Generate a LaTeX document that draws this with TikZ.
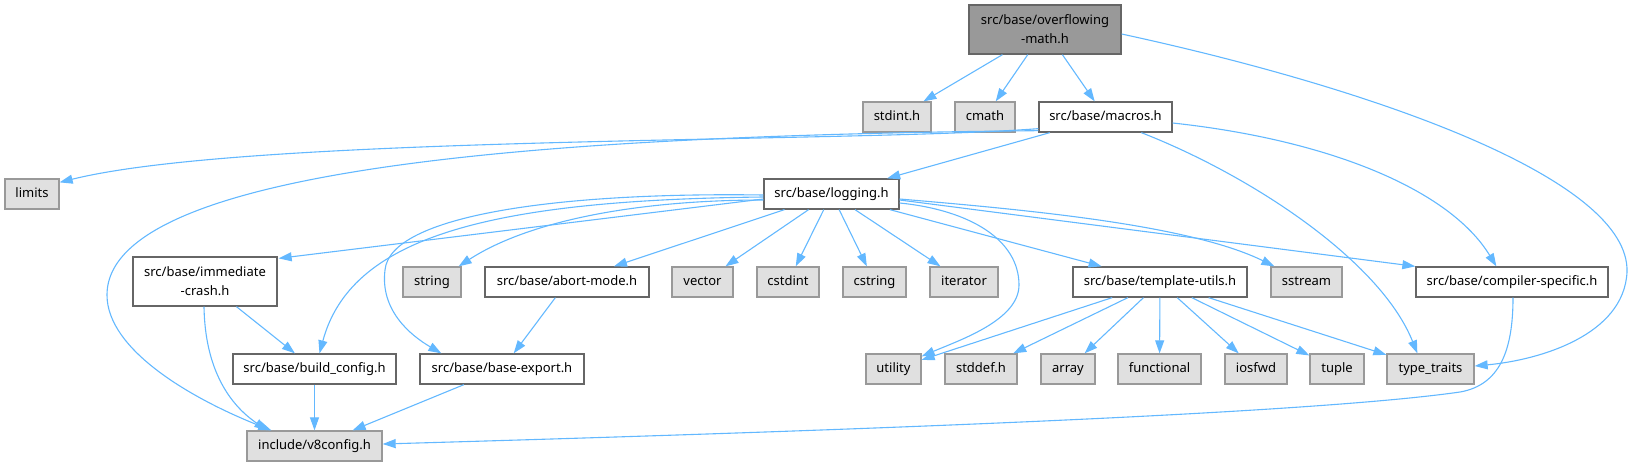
\documentclass[tikz,border=0pt]{standalone}
\usepackage{fontspec}
\setmainfont{Noto Sans}
\usetikzlibrary{arrows.meta,calc}
\definecolor{edgeblue}{HTML}{63B8FF}
\definecolor{sysfill}{HTML}{E0E0E0}
\definecolor{sysdraw}{HTML}{999999}
\definecolor{localdraw}{HTML}{666666}
\definecolor{mainfill}{HTML}{999999}
\begin{document}
\begin{tikzpicture}[x=1pt,y=-1pt,
  nodebase/.style={draw=localdraw, fill=white, line width=1.3pt, inner sep=0pt,
    align=center, font=\fontsize{13}{19}\selectfont},
  box/.style={nodebase, minimum height=30pt, text height=9.5pt, text depth=3pt},
  sysbox/.style={box, draw=sysdraw, fill=sysfill},
  twoline/.style={nodebase, minimum height=49pt},
  edge/.style={draw=edgeblue, line width=1.1pt, -{Triangle[length=13pt,width=9pt]}},
]
\useasboundingbox (0,0) rectangle (1635,467);
% nodes
\node[twoline, fill=mainfill, minimum width=152pt] (ovf) at (1045,29.5) {src/base/overflowing\\-math.h};
\node[sysbox, minimum width=68pt] (stdint) at (897,117) {stdint.h};
\node[sysbox, minimum width=60pt] (cmath) at (985,117) {cmath};
\node[box, minimum width=133pt] (macros) at (1105.5,117) {src/base/macros.h};
\node[sysbox, minimum width=54pt] (limits) at (32,194) {limits};
\node[box, minimum width=135pt] (logging) at (831.5,194) {src/base/logging.h};
\node[twoline, minimum width=144pt] (immcrash) at (205,281.5) {src/base/immediate\\-crash.h};
\node[sysbox, minimum width=58pt] (string) at (432,282) {string};
\node[box, minimum width=164pt] (abort) at (567,282) {src/base/abort-mode.h};
\node[sysbox, minimum width=61pt] (vector) at (702.5,282) {vector};
\node[sysbox, minimum width=62pt] (cstdint) at (788,282) {cstdint};
\node[sysbox, minimum width=63pt] (cstring) at (874.5,282) {cstring};
\node[sysbox, minimum width=68pt] (iterator) at (964,282) {iterator};
\node[box, minimum width=174pt] (tmpl) at (1160,282) {src/base/template-utils.h};
\node[sysbox, minimum width=71pt] (sstream) at (1306.5,282) {sstream};
\node[box, minimum width=192pt] (compspec) at (1512,282) {src/base/compiler-specific.h};
\node[box, minimum width=163pt] (buildcfg) at (314.5,369) {src/base/build\_config.h};
\node[box, minimum width=164pt] (baseexp) at (502,369) {src/base/base-export.h};
\node[sysbox, minimum width=55pt] (utility) at (893.5,369) {utility};
\node[sysbox, minimum width=72pt] (stddef) at (981,369) {stddef.h};
\node[sysbox, minimum width=54pt] (array) at (1068,369) {array};
\node[sysbox, minimum width=83pt] (functional) at (1159.5,369) {functional};
\node[sysbox, minimum width=62pt] (iosfwd) at (1256,369) {iosfwd};
\node[sysbox, minimum width=54pt] (tuple) at (1337,369) {tuple};
\node[sysbox, minimum width=87pt] (typetraits) at (1430.5,369) {type\_traits};
\node[sysbox, minimum width=135pt] (v8config) at (314.5,446) {include/v8config.h};
% edges from overflowing-math.h
\draw[edge] (ovf) -- (stdint);
\draw[edge] (ovf) -- (cmath);
\draw[edge] (ovf) -- (macros);
\draw[edge] ($(ovf.east)+(0,4.5)$) .. controls (1380,90) and (1630,180) .. (1627,272)
  .. controls (1624,335) and (1540,360) .. ($(typetraits.east)+(0,-3)$);
% edges from macros.h
\draw[edge] ($(macros.south west)+(0,-4)$) .. controls (850,143) and (250,135) .. ($(limits.north east)+(0,4)$);
\draw[edge] ($(macros.south west)+(0,-2)$) .. controls (600,135) and (107,160) .. (107,295)
  .. controls (107,350) and (192,399) .. ($(v8config.north west)+(25,0)$);
\draw[edge] (macros) -- (logging);
\draw[edge] ($(macros.south west)+(103,0)$) .. controls (1250,175) and (1380,260) .. ($(typetraits.north west)+(31,0)$);
\draw[edge] ($(macros.east)+(0,6)$) .. controls (1330,140) and (1450,190) .. ($(compspec.north west)+(81,0)$);
% edges from logging.h
\draw[edge] ($(logging.west)+(0,5)$) -- ($(immcrash.north east)+(1,2)$);
\draw[edge] ($(logging.west)+(0,6)$) .. controls (640,200) and (530,220) .. ($(string.north east)+(-3,0)$);
\draw[edge] ($(logging.west)+(0,3)$) .. controls (480,200) and (350,240) .. ($(buildcfg.north)+(5,0)$);
\draw[edge] ($(logging.west)+(0,1)$) .. controls (560,192) and (390,215) .. (385,270)
  .. controls (380,310) and (410,335) .. ($(baseexp.north west)+(22,0)$);
\draw[edge] (logging) -- (abort);
\draw[edge] (logging) -- (vector);
\draw[edge] (logging) -- (cstdint);
\draw[edge] (logging) -- (cstring);
\draw[edge] (logging) -- (iterator);
\draw[edge] (logging) -- (tmpl);
\draw[edge] ($(logging.east)+(0,5)$) .. controls (1030,210) and (1190,225) .. ($(sstream.north west)+(4,0)$);
\draw[edge] ($(logging.east)+(0,6)$) -- (compspec.north west);
\draw[edge] ($(logging.east)+(0,9)$) .. controls (970,210) and (1019,240) .. (1019,285)
  .. controls (1019,320) and (960,340) .. ($(utility.north east)+(0,3)$);
% lower edges
\draw[edge] (immcrash) -- (buildcfg);
\draw[edge] ($(immcrash.south)+(-1,0)$) .. controls (205,370) and (230,405) .. ($(v8config.north west)+(21,0)$);
\draw[edge] (abort) -- (baseexp);
\draw[edge] (buildcfg) -- (v8config);
\draw[edge] (baseexp) -- (v8config);
\draw[edge] ($(compspec.south)+(1,0)$) .. controls (1513,350) and (1500,385) .. (1460,392)
  .. controls (1300,415) and (800,432) .. ($(v8config.east)+(0,-2)$);
% template-utils
\draw[edge] (tmpl) -- (utility);
\draw[edge] (tmpl) -- (stddef);
\draw[edge] (tmpl) -- (array);
\draw[edge] (tmpl) -- (functional);
\draw[edge] (tmpl) -- (iosfwd);
\draw[edge] (tmpl) -- (tuple);
\draw[edge] (tmpl) -- (typetraits);
\end{tikzpicture}
\end{document}
